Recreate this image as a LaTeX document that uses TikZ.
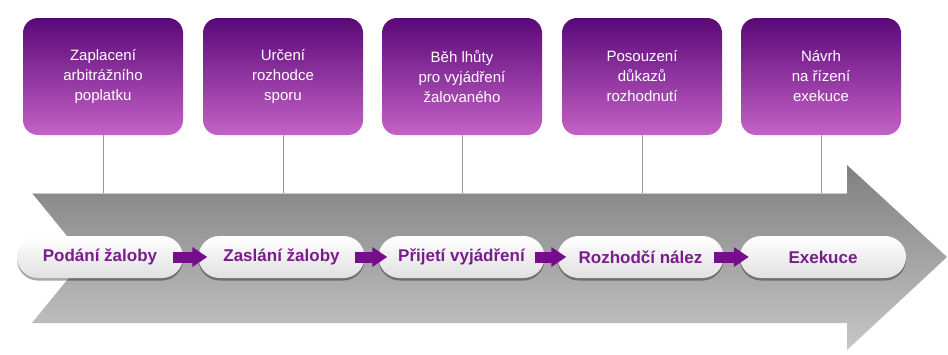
\documentclass[tikz,border=0pt]{standalone}
\usepackage{fontspec}
\setmainfont{Liberation Sans}
\usetikzlibrary{arrows.meta,shadows}
\definecolor{boxtop}{HTML}{5A0878}
\definecolor{boxbot}{HTML}{C462C6}
\definecolor{pilltext}{HTML}{7A1C8E}
\definecolor{flowarrow}{HTML}{760E8C}
\tikzset{
  stagebox/.style={rectangle, rounded corners=15pt, minimum width=160pt, minimum height=117pt,
    top color=boxtop, bottom color=boxbot, draw=none, text=white, align=center,
    font=\fontsize{15}{20}\selectfont},
  pill/.style={rectangle, rounded corners=21pt, minimum width=166pt, minimum height=42pt,
    top color=white, bottom color=black!12, draw=none, text=pilltext,
    font=\fontsize{17}{20}\selectfont\bfseries,
    drop shadow={shadow xshift=0pt, shadow yshift=-2.5pt, opacity=0.35, fill=black}},
  tick/.style={draw=black!40, line width=0.8pt},
  flow/.style={draw=flowarrow, line width=11pt, -{Triangle[length=15pt,width=19pt]}}
}
\begin{document}
\begin{tikzpicture}[x=1pt,y=-1pt]
\useasboundingbox (0,0) rectangle (948,354);
% big arrow
\shade[top color=black!50, middle color=black!45, bottom color=black!22]
  (32,193) -- (847,193) -- (847,165) -- (947,257) -- (847,350) -- (847,323) -- (32,323) -- (85,258) -- cycle;
\draw[black!20, line width=0.8pt] (32,193) -- (847,193);
% top boxes
\node[stagebox] (b1) at (103,76.5) {Zaplacení\\arbitrážního\\poplatku};
\node[stagebox] (b2) at (283,76.5) {Určení\\rozhodce\\sporu};
\node[stagebox] (b3) at (462,76.5) {Běh lhůty\\pro vyjádření\\žalovaného};
\node[stagebox] (b4) at (642,76.5) {Posouzení\\důkazů\\rozhodnutí};
\node[stagebox] (b5) at (821,76.5) {Návrh\\na řízení\\exekuce};
\foreach \i in {1,...,5} {
  \draw[tick] (b\i.south) -- (b\i.south |- 0,193);
}
% pills
\node[pill] (p1) at (100,257) {Podání žaloby};
\node[pill] (p2) at (281.5,257) {Zaslání žaloby};
\node[pill] (p3) at (461.5,257) {Přijetí vyjádření};
\node[pill] (p4) at (640.5,257) {Rozhodčí nález};
\node[pill] (p5) at (823,257) {Exekuce};
\foreach \a/\b in {1/2,2/3,3/4,4/5} {
  \draw[flow, shorten <=-10pt, shorten >=-9pt] (p\a.east) -- (p\b.west);
}
\end{tikzpicture}
\end{document}
